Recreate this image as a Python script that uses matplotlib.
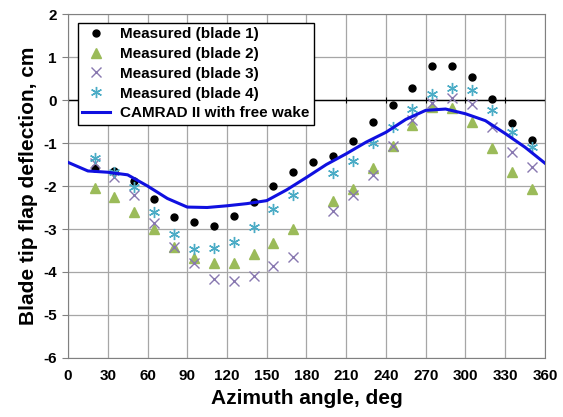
import numpy as np
import matplotlib
matplotlib.use('Agg')
from matplotlib import pyplot as plt

plt.rcParams['font.family'] = ['Liberation Sans', 'DejaVu Sans']
plt.rcParams['font.weight'] = 'bold'
plt.rcParams['axes.unicode_minus'] = False

# azimuth of the measured points, deg (no blade 2-4 data at 185)
azimuth = np.arange(20, 351, 15)
blade1 = [-1.57, -1.65, -1.88, -2.30, -2.73, -2.84, -2.94, -2.70, -2.37, -2.00,
          -1.67, -1.45, -1.30, -0.95, -0.50, -0.12, 0.29, 0.79, 0.80, 0.53,
          0.02, -0.53, -0.93]
blade2 = [-2.05, -2.26, -2.60, -3.00, -3.41, -3.67, -3.78, -3.80, -3.57, -3.32,
          -3.01, np.nan, -2.36, -2.07, -1.59, -1.07, -0.58, -0.17, -0.19, -0.50,
          -1.12, -1.68, -2.07]
blade3 = [-1.47, -1.78, -2.22, -2.85, -3.41, -3.80, -4.16, -4.20, -4.09, -3.85,
          -3.64, np.nan, -2.58, -2.21, -1.74, -1.07, -0.47, -0.08, 0.04, -0.10,
          -0.62, -1.22, -1.55]
blade4 = [-1.36, -1.67, -2.02, -2.60, -3.12, -3.47, -3.45, -3.30, -2.95, -2.53,
          -2.22, np.nan, -1.70, -1.42, -1.01, -0.62, -0.21, 0.14, 0.27, 0.23,
          -0.23, -0.74, -1.09]

# CAMRAD II free wake prediction
psi_calc = np.arange(0, 361, 15)
camrad = [-1.45, -1.65, -1.68, -1.74, -2.00, -2.29, -2.49, -2.50, -2.46, -2.41,
          -2.34, -2.09, -1.80, -1.50, -1.25, -0.98, -0.75, -0.45, -0.24, -0.21,
          -0.32, -0.48, -0.78, -1.10, -1.47]

xticks = np.arange(0, 361, 30)
yticks = np.arange(-6, 3, 1)

fig = plt.figure(figsize=(5.63, 4.17), dpi=100)
ax = fig.add_axes([0.1208, 0.1415, 0.8472, 0.8249])

ax.grid(True, color='#a6a6a6', lw=0.9)
ax.set_axisbelow(True)
ax.axhline(0, color='black', lw=1.0, zorder=1)
ax.plot(xticks, np.zeros(len(xticks)), ls='none', marker='|', color='black',
        ms=5, mew=0.8, zorder=1)

ax.plot(azimuth, blade1, ls='none', marker='o', ms=5, color='black',
        label='Measured (blade 1)', zorder=3)
ax.plot(azimuth, blade2, ls='none', marker='^', ms=7, color='#9bbb59',
        label='Measured (blade 2)', zorder=3)
ax.plot(azimuth, blade3, ls='none', marker='x', ms=7, mew=1.0, color='#8878b0',
        label='Measured (blade 3)', zorder=3)
ax.plot(azimuth, blade4, ls='none', marker=(6, 2, 0), ms=8, mew=1.0,
        color='#4bacc6', label='Measured (blade 4)', zorder=3)
ax.plot(psi_calc, camrad, color='#1010e0', lw=2.2,
        label='CAMRAD II with free wake', zorder=4)

ax.set_xlim(0, 360)
ax.set_ylim(-6, 2)
ax.set_xticks(xticks)
ax.set_yticks(yticks)
ax.tick_params(axis='both', labelsize=11, length=4, color='#808080', pad=4)
ax.tick_params(axis='x', length=0, pad=8)
for s in ax.spines.values():
    s.set_color('#808080')

ax.set_xlabel('Azimuth angle, deg', fontsize=15, fontweight='bold', labelpad=4)
ax.set_ylabel('Blade tip flap deflection, cm', fontsize=15, fontweight='bold',
              labelpad=4)

leg = ax.legend(loc='upper left', bbox_to_anchor=(0.02, 0.975), fontsize=11,
                frameon=True, fancybox=False, framealpha=1, edgecolor='black',
                handlelength=1.8, handletextpad=0.7, borderpad=0.3,
                labelspacing=0.38, borderaxespad=0)
leg.get_frame().set_linewidth(1.0)

fig.savefig('out.png', dpi=100)
